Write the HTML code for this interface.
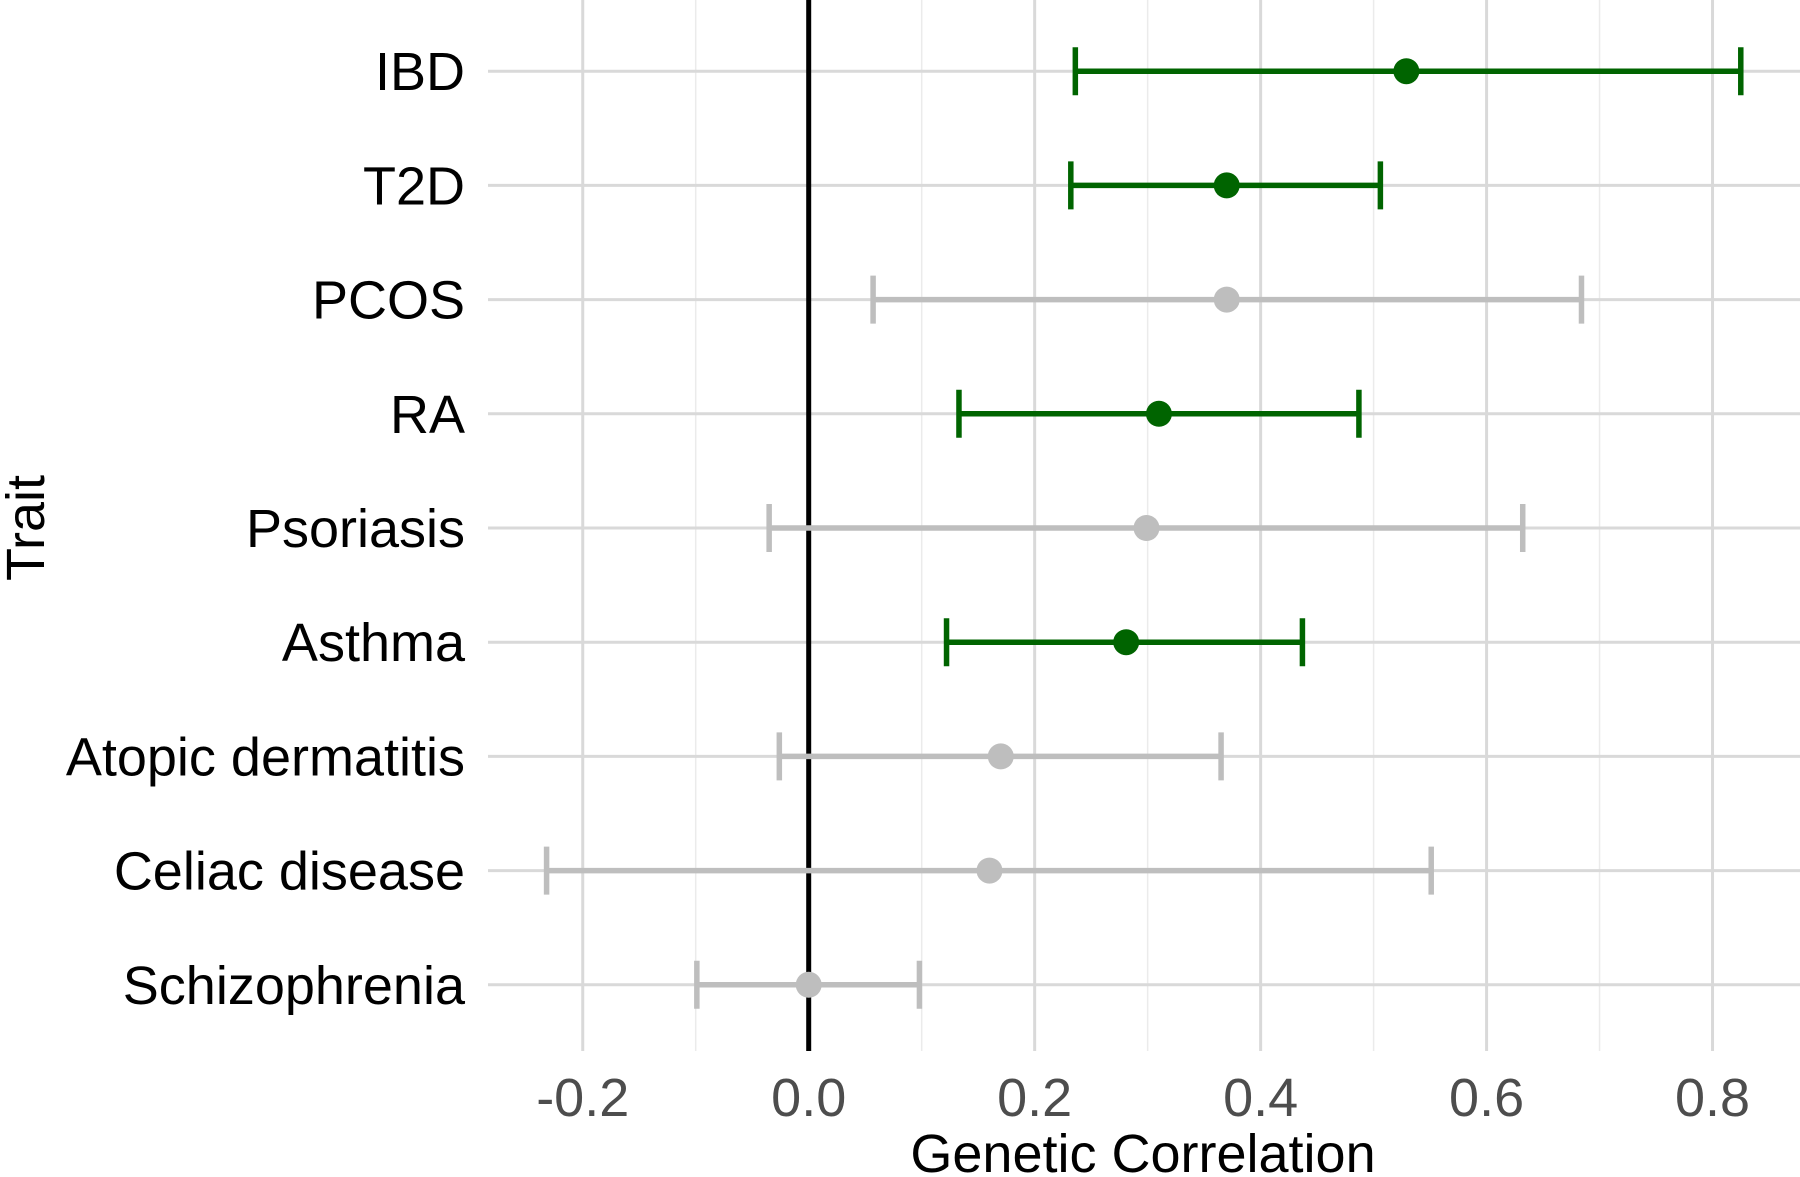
<!DOCTYPE html>
<html><head><meta charset="utf-8">
<style>
html,body{margin:0;padding:0;background:#fff;}
svg{display:block;font-family:"Liberation Sans",Arial,sans-serif;}
</style></head>
<body>
<svg id="chart" width="1800" height="1177" viewBox="0 0 1800 1177" xmlns="http://www.w3.org/2000/svg">
<g id="grid"></g>
<g id="marks"></g>
<g id="labels"></g>
<text x="1143" y="1172" text-anchor="middle" font-size="54" fill="#000">Genetic Correlation</text>
<text transform="translate(44,528) rotate(-90)" text-anchor="middle" font-size="54" fill="#000">Trait</text>
</svg>
<script>
const traits = ["IBD","T2D","PCOS","RA","Psoriasis","Asthma","Atopic dermatitis","Celiac disease","Schizophrenia"];
const estimates = [0.529,0.370,0.370,0.310,0.299,0.281,0.170,0.160,0.0];
const lowers = [0.236,0.232,0.057,0.133,-0.035,0.122,-0.026,-0.232,-0.099];
const uppers = [0.825,0.506,0.684,0.487,0.632,0.437,0.365,0.551,0.098];
const significant = [true,true,false,true,false,true,false,false,false];
const xTicks = [-0.2,0.0,0.2,0.4,0.6,0.8];
const xTickLabels = ["-0.2","0.0","0.2","0.4","0.6","0.8"];
const xMinor = [-0.1,0.1,0.3,0.5,0.7];

const NS="http://www.w3.org/2000/svg";
const panelLeft=488,panelRight=1800,panelTop=0,panelBottom=1051;
const x0=808.7,pxPerUnit=1129.8;
function xs(v){return x0+v*pxPerUnit;}
function ys(i){return 71.2+i*114.2;}
function mk(tag,attrs,parent){const e=document.createElementNS(NS,tag);for(const k in attrs)e.setAttribute(k,attrs[k]);parent.appendChild(e);return e;}
const gridG=document.getElementById('grid'),marksG=document.getElementById('marks'),labelsG=document.getElementById('labels');

xMinor.forEach(v=>{
  const l=mk('line',{x1:xs(v),x2:xs(v),y1:panelTop,y2:panelBottom,stroke:'#ebebeb','stroke-width':1.5},gridG);
  
  
});
xTicks.forEach((v,i)=>{
  const l=mk('line',{x1:xs(v),x2:xs(v),y1:panelTop,y2:panelBottom,stroke:'#d9d9d9','stroke-width':3},gridG);
  
  
  const t=mk('text',{x:xs(v),y:1116,'text-anchor':'middle','font-size':54,fill:'#4d4d4d'},labelsG);
  t.textContent=xTickLabels[i];
  
  
});
traits.forEach((name,i)=>{
  const y=ys(i);
  const g=mk('line',{x1:panelLeft,x2:panelRight,y1:y,y2:y,stroke:'#d9d9d9','stroke-width':3},gridG);
  
  
  const t=mk('text',{x:465,y:y+19,'text-anchor':'end','font-size':54,fill:'#000'},labelsG);
  t.textContent=name;
  
  
});
const zl=mk('line',{x1:xs(0),x2:xs(0),y1:panelTop,y2:panelBottom,stroke:'#000','stroke-width':5},gridG);



traits.forEach((name,i)=>{
  const y=ys(i),c=significant[i]?'#006400':'#bebebe';
  const g=mk('g',{},marksG);
  
  
  mk('line',{x1:xs(lowers[i]),x2:xs(uppers[i]),y1:y,y2:y,stroke:c,'stroke-width':5.5},g);
  mk('line',{x1:xs(lowers[i]),x2:xs(lowers[i]),y1:y-24,y2:y+24,stroke:c,'stroke-width':5.5},g);
  mk('line',{x1:xs(uppers[i]),x2:xs(uppers[i]),y1:y-24,y2:y+24,stroke:c,'stroke-width':5.5},g);
  const p=mk('circle',{cx:xs(estimates[i]),cy:y,r:13,fill:c},marksG);
  
  
});
</script>
</body></html>
